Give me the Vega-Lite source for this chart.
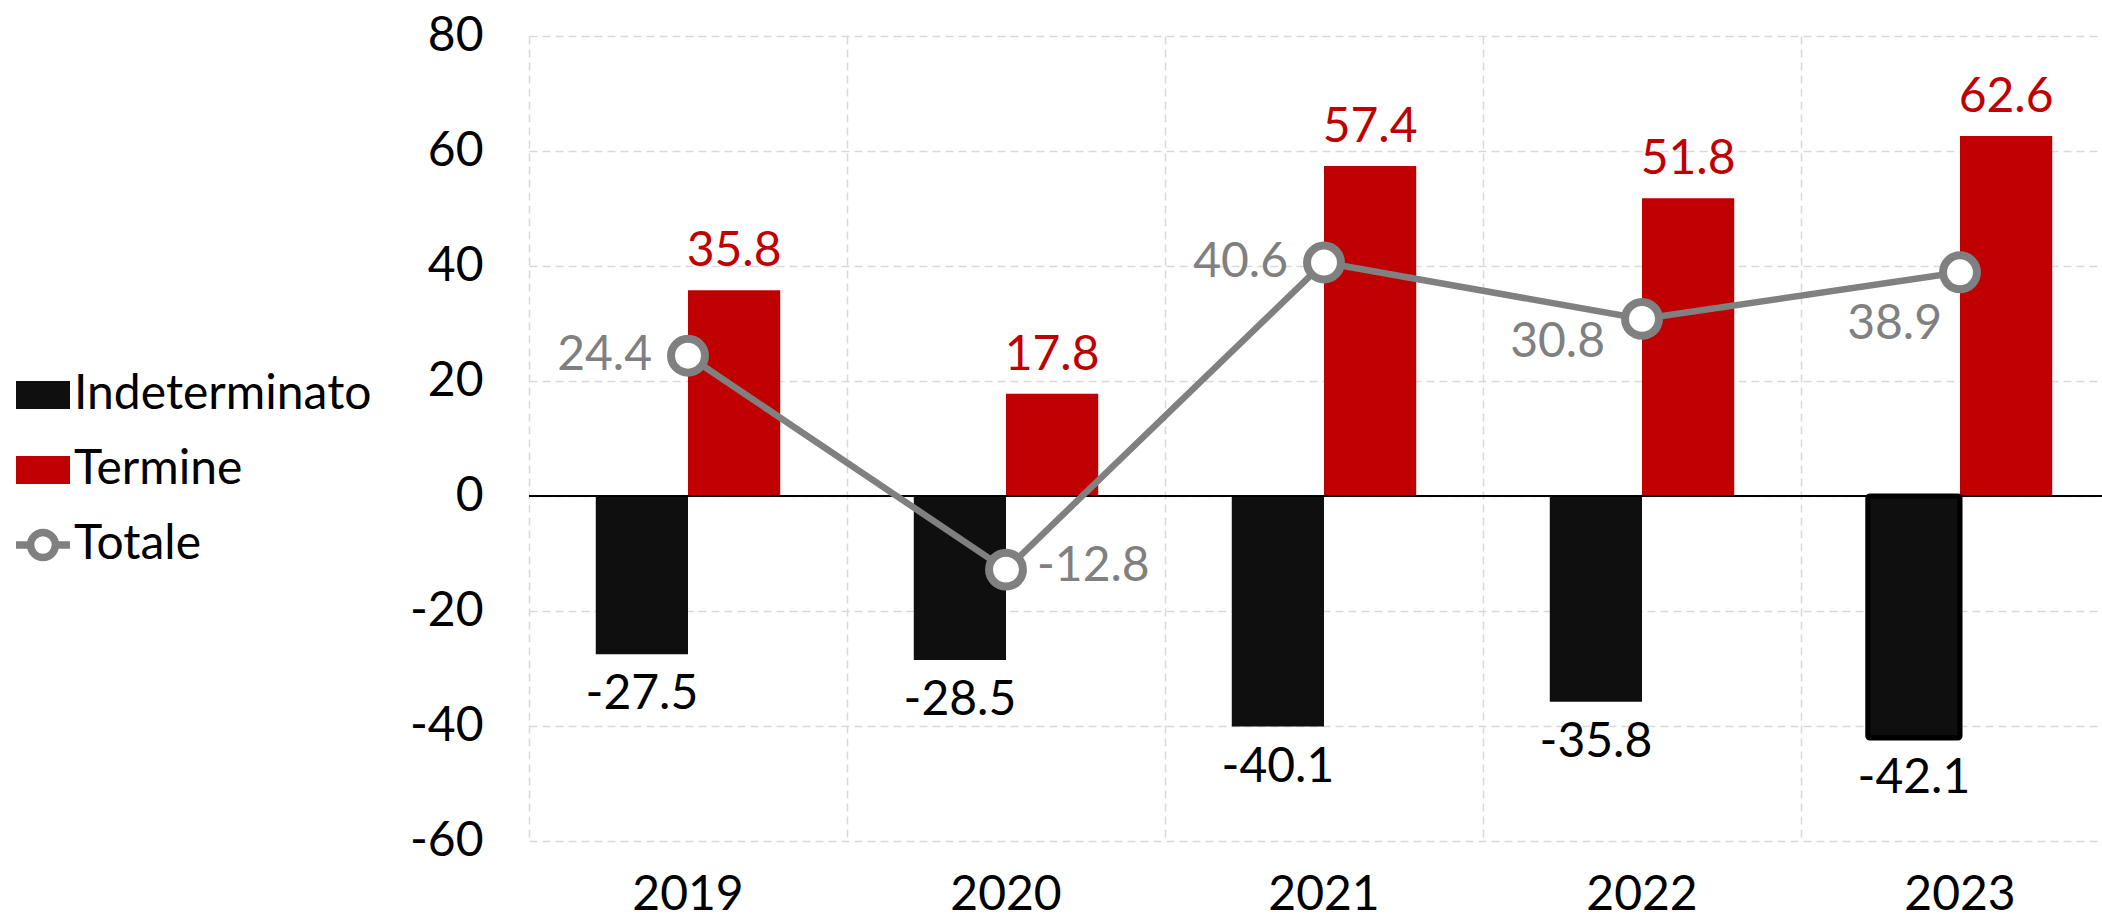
{
  "$schema": "https://vega.github.io/schema/vega-lite/v6.json",
  "width": 1590,
  "height": 805,
  "autosize": {"type": "none"},
  "padding": {"left": 529, "top": 36, "right": -17, "bottom": 73},
  "background": "white",
  "config": {
    "font": "Lato",
    "view": {"stroke": null},
    "axis": {
      "domain": false,
      "ticks": false,
      "title": null,
      "labelFont": "Lato",
      "labelFontSize": 48,
      "labelColor": "#000000",
      "gridColor": "#d9d9d9",
      "gridDash": [8, 5],
      "gridWidth": 1.5
    },
    "axisY": {"labelPadding": 46}
  },
  "data": {
    "values": [
      {"year": "2019", "series": "Indeterminato", "value": -27.5},
      {"year": "2020", "series": "Indeterminato", "value": -28.5},
      {"year": "2021", "series": "Indeterminato", "value": -40.1},
      {"year": "2022", "series": "Indeterminato", "value": -35.8},
      {"year": "2023", "series": "Indeterminato", "value": -42.1},
      {"year": "2019", "series": "Termine", "value": 35.8},
      {"year": "2020", "series": "Termine", "value": 17.8},
      {"year": "2021", "series": "Termine", "value": 57.4},
      {"year": "2022", "series": "Termine", "value": 51.8},
      {"year": "2023", "series": "Termine", "value": 62.6},
      {"year": "2019", "series": "Totale", "value": 24.4},
      {"year": "2020", "series": "Totale", "value": -12.8},
      {"year": "2021", "series": "Totale", "value": 40.6},
      {"year": "2022", "series": "Totale", "value": 30.8},
      {"year": "2023", "series": "Totale", "value": 38.9}
    ]
  },
  "resolve": {"scale": {"x": "independent"}, "axis": {"x": "independent"}},
  "layer": [
    {
      "transform": [{"filter": "datum.series === 'Totale'"}],
      "mark": {"type": "rule", "strokeOpacity": 0},
      "encoding": {
        "x": {"field": "year", "type": "nominal", "scale": {"paddingInner": 0, "paddingOuter": 0}, "axis": {"orient": "top", "labels": false, "grid": true, "tickBand": "extent"}}
      }
    },
    {
      "layer": [
        {
          "transform": [{"filter": "datum.series !== 'Totale'"}],
          "mark": {"type": "bar"},
          "encoding": {
            "x": {"field": "year", "type": "nominal", "scale": {"paddingInner": 0.42, "paddingOuter": 0.21}, "axis": {"orient": "bottom", "grid": false, "labelPadding": 30, "labelAngle": 0}},
            "xOffset": {"field": "series", "type": "nominal", "scale": {"domain": ["Indeterminato", "Termine"], "paddingInner": 0, "paddingOuter": 0}},
            "y": {"field": "value", "type": "quantitative", "scale": {"domain": [-60, 80], "nice": false}, "axis": {"values": [-60, -40, -20, 0, 20, 40, 60, 80], "grid": true, "labelExpr": "'' + datum.value"}},
            "color": {
              "field": "series",
              "type": "nominal",
              "scale": {"domain": ["Indeterminato", "Termine", "Totale"], "range": ["#0f0f0f", "#c00000", "#ffffff"]},
              "legend": {
                "title": null,
                "orient": "none",
                "legendX": -517,
                "legendY": 328,
                "padding": 0,
                "labelFont": "Lato",
                "labelFontSize": 48,
                "labelColor": "#000000",
                "labelOffset": 0,
                "labelLimit": 0,
                "rowPadding": 14,
                "symbolSize": 2916,
                "symbolStrokeWidth": 7.5,
                "symbolOpacity": 1,
                "symbolType": {"expr": "datum.value === 'Totale' ? 'M-1,0H-0.46M0.46,0H1M-0.46,0A0.46,0.46 0 1,1 0.46,0A0.46,0.46 0 1,1 -0.46,0Z' : 'M-1,-0.52H1V0.52H-1Z'"},
                "symbolStrokeColor": {"expr": "datum.value === 'Totale' ? '#808080' : 'transparent'"}
              }
            }
          }
        },
        {
          "transform": [{"filter": "datum.series === 'Indeterminato' && datum.year === '2023'"}],
          "mark": {"type": "bar", "fill": "#0f0f0f", "stroke": "#000000", "strokeWidth": 5, "cornerRadius": 2},
          "encoding": {
            "x": {"field": "year", "type": "nominal"},
            "xOffset": {"field": "series", "type": "nominal"},
            "y": {"field": "value", "type": "quantitative"}
          }
        },
        {
          "data": {"values": [{"zero": 0}]},
          "mark": {"type": "rule", "color": "#000000", "strokeWidth": 2},
          "encoding": {"y": {"field": "zero", "type": "quantitative"}}
        },
        {
          "transform": [{"filter": "datum.series === 'Totale'"}],
          "mark": {"type": "line", "color": "#808080", "strokeWidth": 6.5},
          "encoding": {
            "x": {"field": "year", "type": "nominal"},
            "y": {"field": "value", "type": "quantitative"}
          }
        },
        {
          "transform": [{"filter": "datum.series === 'Totale'"}],
          "mark": {"type": "point", "shape": "circle", "filled": true, "fill": "#ffffff", "stroke": "#808080", "strokeWidth": 8, "size": 1150, "opacity": 1},
          "encoding": {
            "x": {"field": "year", "type": "nominal"},
            "y": {"field": "value", "type": "quantitative"}
          }
        },
        {
          "transform": [{"filter": "datum.series === 'Termine'"}],
          "mark": {"type": "text", "align": "center", "baseline": "alphabetic", "dy": -24, "fontSize": 48, "color": "#c00000"},
          "encoding": {
            "x": {"field": "year", "type": "nominal"},
            "xOffset": {"field": "series", "type": "nominal"},
            "y": {"field": "value", "type": "quantitative"},
            "text": {"field": "value", "type": "nominal"}
          }
        },
        {
          "transform": [{"filter": "datum.series === 'Indeterminato'"}],
          "mark": {"type": "text", "align": "center", "baseline": "alphabetic", "dy": 55, "fontSize": 48, "color": "#000000"},
          "encoding": {
            "x": {"field": "year", "type": "nominal"},
            "xOffset": {"field": "series", "type": "nominal"},
            "y": {"field": "value", "type": "quantitative"},
            "text": {"field": "value", "type": "nominal"}
          }
        },
        {
          "transform": [{"filter": "datum.series === 'Totale' && (datum.year === '2019' || datum.year === '2021')"}],
          "mark": {"type": "text", "align": "right", "baseline": "middle", "dx": -36, "fontSize": 48, "color": "#808080"},
          "encoding": {
            "x": {"field": "year", "type": "nominal"},
            "y": {"field": "value", "type": "quantitative"},
            "text": {"field": "value", "type": "nominal"}
          }
        },
        {
          "transform": [{"filter": "datum.series === 'Totale' && datum.year === '2020'"}],
          "mark": {"type": "text", "align": "left", "baseline": "middle", "dx": 31, "dy": -3, "fontSize": 48, "color": "#808080"},
          "encoding": {
            "x": {"field": "year", "type": "nominal"},
            "y": {"field": "value", "type": "quantitative"},
            "text": {"field": "value", "type": "nominal"}
          }
        },
        {
          "transform": [{"filter": "datum.series === 'Totale' && datum.year === '2022'"}],
          "mark": {"type": "text", "align": "right", "baseline": "middle", "dx": -37, "dy": 24, "fontSize": 48, "color": "#808080"},
          "encoding": {
            "x": {"field": "year", "type": "nominal"},
            "y": {"field": "value", "type": "quantitative"},
            "text": {"field": "value", "type": "nominal"}
          }
        },
        {
          "transform": [{"filter": "datum.series === 'Totale' && datum.year === '2023'"}],
          "mark": {"type": "text", "align": "right", "baseline": "middle", "dx": -18, "dy": 53, "fontSize": 48, "color": "#808080"},
          "encoding": {
            "x": {"field": "year", "type": "nominal"},
            "y": {"field": "value", "type": "quantitative"},
            "text": {"field": "value", "type": "nominal"}
          }
        }
      ]
    }
  ]
}
